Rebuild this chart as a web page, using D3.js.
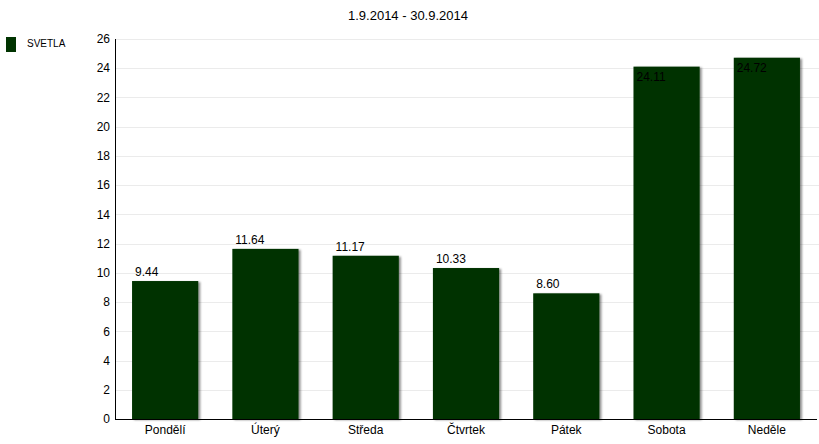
<!DOCTYPE html>
<html>
<head>
<meta charset="utf-8">
<script src="https://cdn.jsdelivr.net/npm/d3@7"></script>
<style>
  body { margin: 0; background: #fff; }
  text { font-family: Arial, "Liberation Sans", sans-serif; }
</style>
</head>
<body>
<script>
// chart data
var days = ["Pondělí", "Úterý", "Středa", "Čtvrtek", "Pátek", "Sobota", "Neděle"];
var values = [9.44, 11.64, 11.17, 10.33, 8.60, 24.11, 24.72];
var yTicks = [0, 2, 4, 6, 8, 10, 12, 14, 16, 18, 20, 22, 24, 26];
var seriesName = "SVETLA";
var title = "1.9.2014 - 30.9.2014";

var width = 819, height = 444;
var plotLeft = 115, plotRight = 817, plotTop = 39, plotBottom = 419;
var barColor = "#003300";

var svg = d3.select("body").append("svg")
    .attr("width", width)
    .attr("height", height);

// soft shadow for bars
var f = svg.append("defs").append("filter")
    .attr("id", "shadow")
    .attr("x", "-10%").attr("y", "-10%")
    .attr("width", "130%").attr("height", "130%");
f.append("feDropShadow")
    .attr("dx", 2).attr("dy", 1)
    .attr("stdDeviation", 1.2)
    .attr("flood-color", "#000")
    .attr("flood-opacity", 0.45);

var x = d3.scaleBand()
    .domain(days)
    .range([plotLeft, plotRight])
    .paddingInner(0.34)
    .paddingOuter(0.17);

var y = d3.scaleLinear()
    .domain([0, 26])
    .range([plotBottom, plotTop]);

// title
svg.append("text")
    .attr("x", 408)
    .attr("y", 20)
    .attr("text-anchor", "middle")
    .attr("font-size", 13)
    .attr("fill", "#000")
    .text(title);

// legend
svg.append("rect")
    .attr("x", 6).attr("y", 37)
    .attr("width", 10).attr("height", 15)
    .attr("fill", barColor);
svg.append("text")
    .attr("x", 27).attr("y", 47)
    .attr("font-size", 10)
    .attr("fill", "#000")
    .text(seriesName);

// gridlines
svg.append("g")
  .selectAll("line")
  .data(yTicks.filter(function(d) { return d > 0; }))
  .enter().append("line")
    .attr("x1", plotLeft)
    .attr("x2", width)
    .attr("y1", function(d) { return Math.round(y(d)) + 0.5; })
    .attr("y2", function(d) { return Math.round(y(d)) + 0.5; })
    .attr("stroke", "#ebebeb");

// y tick labels
svg.append("g")
  .selectAll("text")
  .data(yTicks)
  .enter().append("text")
    .attr("x", 110)
    .attr("y", function(d) { return y(d); })
    .attr("dy", "0.35em")
    .attr("text-anchor", "end")
    .attr("font-size", 12)
    .attr("fill", "#000")
    .text(function(d) { return d; });

// bars
svg.append("g")
  .selectAll("rect")
  .data(values)
  .enter().append("rect")
    .attr("x", function(d, i) { return x(days[i]); })
    .attr("y", function(d) { return y(d); })
    .attr("width", x.bandwidth())
    .attr("height", function(d) { return y(0) - y(d); })
    .attr("fill", barColor)
    .attr("filter", "url(#shadow)");

// value labels: above the bar, inside it for the tall ones
svg.append("g")
  .selectAll("text")
  .data(values)
  .enter().append("text")
    .attr("x", function(d, i) { return x(days[i]) + 3; })
    .attr("y", function(d) { return d > 20 ? y(d) + 14 : y(d) - 5; })
    .attr("font-size", 12)
    .attr("fill", "#000")
    .text(function(d) { return d.toFixed(2); });

// axes lines
svg.append("line")
    .attr("x1", plotLeft + 0.5).attr("x2", plotLeft + 0.5)
    .attr("y1", plotTop).attr("y2", plotBottom)
    .attr("stroke", "#000");
svg.append("line")
    .attr("x1", plotLeft).attr("x2", plotRight)
    .attr("y1", plotBottom + 0.5).attr("y2", plotBottom + 0.5)
    .attr("stroke", "#000");

// x labels
svg.append("g")
  .selectAll("text")
  .data(days)
  .enter().append("text")
    .attr("x", function(d) { return x(d) + x.bandwidth() / 2; })
    .attr("y", 434)
    .attr("text-anchor", "middle")
    .attr("font-size", 12)
    .attr("fill", "#000")
    .text(function(d) { return d; });
</script>
</body>
</html>
